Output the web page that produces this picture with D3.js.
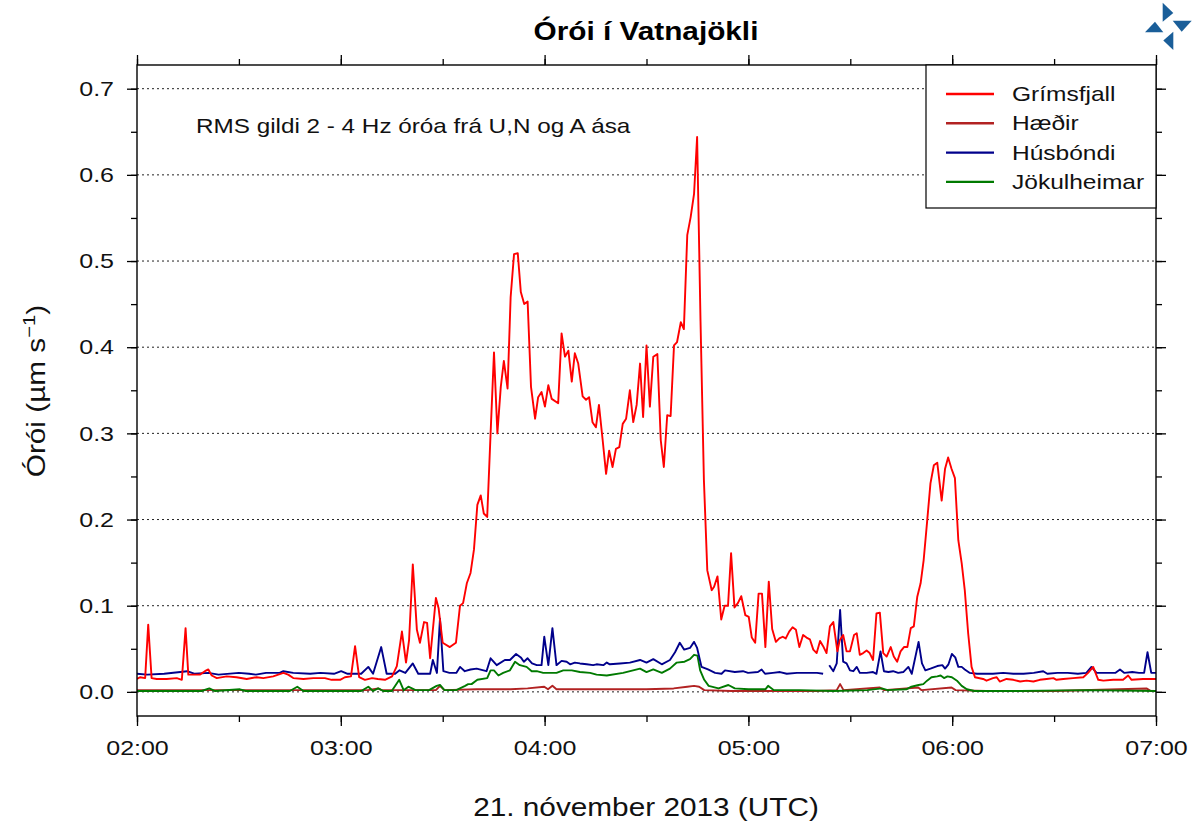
<!DOCTYPE html>
<html>
<head>
<meta charset="utf-8">
<script src="https://cdn.jsdelivr.net/npm/d3@7"></script>
<style>
  html, body { margin: 0; padding: 0; background: #fff; }
  svg { display: block; font-family: "Liberation Sans", Arial, Helvetica, sans-serif; }
</style>
</head>
<body>
<svg id="chart" width="1192" height="825"></svg>
<script>
// ---- Data (minutes after 02:00 UTC, 21 Nov 2013; values in µm/s) ----
const seriesNames = ["Grímsfjall", "Hæðir", "Húsbóndi", "Jökulheimar"];
const seriesColors = ["#ff0000", "#b22222", "#00008b", "#007a00"];

const grimsT = [0,0.9,2.4,3.3,4.3,5.8,8.7,11.7,13.2,14.3,15.1,17.1,18.5,20,21,22,23.5,26.4,29.3,32.3,35.2,37.2,40.1,43.1,44.5,46,49,51.9,55.3,57.3,59.8,61.2,63,64.2,65.4,67.1,69.2,70.9,73,75.1,76.5,78,79.2,80.1,81.2,82.4,83.3,84.5,85.4,86.3,88,88.8,90,92.1,93.9,95.1,96,97.1,98.2,99.2,100.2,101.2,102.1,103.1,104.1,105.1,106.1,107.1,108,109.1,110,111,112.1,113,114,115,116,117.2,118.1,119.1,120.1,121.1,122.1,124,125,126,127,128,128.9,129.9,131.2,132.2,133.1,134.1,135.1,136,137.1,138.1,139,140,141,142,143,144,145.1,146.1,147.1,148.1,149,150,151,152,153.2,154.2,155.1,156.1,157.1,158.1,159,160.1,161,162,163,164,164.9,165.9,166.9,167.9,169.2,169.9,170.9,172,173,174,174.9,175.9,176.9,177.9,179.1,180.1,181,182,183,184,185,186,187,188.1,189.1,190.1,191,192,193,194,195,196.1,197.1,198.1,199.1,200.1,201.1,202,203,204,205,206.2,206.9,207.9,208.9,209.9,211.1,211.9,212.8,213.8,214.8,215.7,216.7,217.7,218.7,219.7,220.7,221.9,222.8,223.8,224.8,225.8,226.8,227.8,228.7,229.7,230.7,231.6,232.6,233.6,234.6,235.6,236.9,237.9,238.8,239.8,240.8,241.8,242.8,243.7,244.7,245.7,246.7,249.1,250.1,252,253.1,254,256,258,260,261.9,263.9,265.8,267.8,269.8,270.7,272.7,275.6,278.6,280,281.5,283,284.5,287.4,290.3,291.8,292.8,296.2,299.7,300];
const grimsV = [0.015,0.017,0.016,0.078,0.016,0.015,0.015,0.016,0.014,0.074,0.02,0.02,0.02,0.024,0.026,0.019,0.016,0.018,0.017,0.015,0.017,0.016,0.018,0.022,0.02,0.016,0.015,0.016,0.016,0.014,0.014,0.017,0.018,0.053,0.017,0.014,0.016,0.015,0.014,0.018,0.03,0.07,0.034,0.06,0.148,0.072,0.057,0.081,0.08,0.039,0.109,0.097,0.057,0.052,0.057,0.1,0.103,0.126,0.138,0.165,0.217,0.228,0.207,0.203,0.3,0.394,0.3,0.354,0.384,0.352,0.458,0.508,0.509,0.464,0.45,0.453,0.354,0.317,0.342,0.348,0.331,0.356,0.34,0.335,0.416,0.389,0.396,0.36,0.393,0.381,0.343,0.339,0.342,0.313,0.307,0.333,0.292,0.253,0.28,0.261,0.282,0.284,0.311,0.317,0.35,0.313,0.333,0.381,0.319,0.402,0.331,0.389,0.392,0.292,0.261,0.321,0.32,0.402,0.406,0.429,0.421,0.53,0.551,0.578,0.644,0.431,0.246,0.141,0.118,0.122,0.134,0.084,0.1,0.1,0.161,0.098,0.103,0.111,0.089,0.087,0.063,0.057,0.114,0.114,0.052,0.128,0.073,0.058,0.062,0.064,0.062,0.07,0.075,0.072,0.052,0.066,0.063,0.061,0.049,0.045,0.059,0.053,0.045,0.076,0.081,0.047,0.06,0.066,0.047,0.047,0.066,0.068,0.043,0.045,0.048,0.045,0.037,0.091,0.092,0.045,0.041,0.052,0.041,0.035,0.047,0.052,0.052,0.074,0.076,0.11,0.126,0.153,0.197,0.242,0.263,0.266,0.222,0.259,0.272,0.259,0.248,0.176,0.149,0.118,0.068,0.029,0.017,0.015,0.013,0.016,0.017,0.012,0.015,0.014,0.012,0.013,0.012,0.014,0.015,0.016,0.014,0.015,0.016,0.017,0.022,0.029,0.014,0.013,0.014,0.014,0.019,0.014,0.015,0.015,0.015];

const haedirT = [0,20,40,60,68,71,72,88,89.2,90.5,100,110,115,119.9,121,122.3,123.5,130,140,150,158,162,164,165.5,167,175,190,200,206,207,208,218.7,220,230,231,239.8,241,250,270,297.2,298.5,300];
const haedirV = [0.002,0.002,0.002,0.002,0.002,0.004,0.002,0.002,0.007,0.002,0.003,0.003,0.004,0.006,0.003,0.007,0.003,0.003,0.003,0.003,0.004,0.006,0.007,0.006,0.002,0.001,0.001,0.001,0.002,0.009,0.002,0.005,0.002,0.005,0.002,0.005,0.002,0.001,0.001,0.004,0.001,0.001];

const husT = [0,3,8,14.8,17,21,24,30,33,35,38,42,43.1,46,51,54,58,60.1,62,66,68.1,69.5,71.9,73.5,76,77.3,79,81.2,82.8,86.3,87.1,88.3,89.2,90.2,92,94,95.1,96.5,98.2,100,102.9,104.1,105.9,108.3,109.8,111.6,113,113.9,115,116.3,117.7,119.1,119.9,121.1,122.3,123.5,125,126.5,127.5,128.9,130.4,132.4,134.3,135.3,137.3,138.3,139.2,142.2,145.1,148.1,150,152,154.5,156.9,158.4,159.8,161.1,162.8,164,164.9,166.2,168.1,170.2,172.1,173.1,176,178.4,179.9,182.8,183.9,184.9,187.2,189.3,191.3,194.3,197.2,200.2,202,203,203.8,205,206,207,207.9,208.9,209.9,210.9,211.9,212.8,214.8,216.7,217.7,218.9,219.9,221.2,222.6,224.1,225.6,227.1,228.1,230.1,231.1,232.1,233.6,235.6,237.1,237.9,238.9,239.9,240.9,241.8,242.8,243.7,245.2,247.3,249,252,255,258,261,264,266.8,268,271,274,277,279.5,281,282.5,285,288,289.4,290.7,293,295,296.5,297.5,298.6,300];
const husV = [0.021,0.02,0.021,0.024,0.021,0.022,0.02,0.022,0.021,0.02,0.022,0.022,0.024,0.022,0.021,0.022,0.021,0.024,0.021,0.021,0.029,0.021,0.052,0.021,0.021,0.025,0.022,0.033,0.021,0.021,0.037,0.022,0.085,0.024,0.022,0.022,0.029,0.024,0.026,0.027,0.024,0.039,0.031,0.037,0.037,0.044,0.04,0.035,0.039,0.033,0.031,0.031,0.064,0.031,0.074,0.031,0.036,0.035,0.032,0.034,0.033,0.032,0.031,0.032,0.031,0.034,0.032,0.033,0.034,0.037,0.034,0.038,0.032,0.037,0.046,0.057,0.049,0.051,0.058,0.051,0.029,0.026,0.022,0.021,0.025,0.023,0.024,0.022,0.023,0.026,0.021,0.022,0.023,0.021,0.022,0.022,0.022,0.021,null,0.031,0.024,0.033,0.095,0.035,0.033,0.025,0.024,0.029,0.022,0.022,0.023,0.021,0.047,0.024,0.023,0.024,0.022,0.023,0.029,0.021,0.058,0.033,0.025,0.027,0.03,0.031,0.027,0.032,0.044,0.04,0.029,0.029,0.026,0.022,0.021,0.021,0.021,0.022,0.021,0.021,0.022,0.024,0.021,0.022,0.022,0.021,0.022,0.029,0.022,0.022,0.022,0.026,0.022,0.023,0.022,0.022,0.046,0.022,0.022];

const jokT = [0,10,19,21.3,23,30.3,32,45,47.2,49,60,66,68.1,69.5,71,72.5,75,77.2,78.5,79.9,82,86,88.2,89.2,90.5,94,96.6,97.5,98.5,100.2,103.1,104.1,105.1,106.4,107.8,109.8,111.3,112.7,114.7,116.2,117.7,119.6,121.6,123.5,125.5,128,130.4,133.4,135.3,138.3,143.1,148.1,150,152,154.5,156.9,158.9,161.2,162.8,164,165,165.8,167,168.3,171.2,174.1,176,180,185,185.8,187.5,195,205,215,219.3,221,226.5,228,230.1,231.5,232.6,233.9,235.6,236.6,237.6,238.6,239.9,241.4,242.8,244.3,246.5,260,280,300];
const jokV = [0.001,0.001,0.001,0.004,0.001,0.003,0.001,0.001,0.006,0.001,0.001,0.001,0.006,0.001,0.004,0.001,0.001,0.014,0.002,0.006,0.002,0.002,0.007,0.008,0.002,0.002,0.007,0.009,0.009,0.014,0.016,0.025,0.025,0.019,0.022,0.025,0.035,0.031,0.029,0.024,0.024,0.022,0.022,0.022,0.025,0.025,0.023,0.022,0.02,0.019,0.022,0.027,0.023,0.026,0.022,0.027,0.034,0.035,0.038,0.043,0.042,0.025,0.014,0.007,0.004,0.008,0.004,0.003,0.003,0.007,0.002,0.002,0.001,0.002,0.004,0.002,0.003,0.006,0.008,0.009,0.013,0.017,0.018,0.019,0.016,0.018,0.017,0.013,0.007,0.003,0.001,0.001,0.002,0.001];

const yTicks = [0, 0.1, 0.2, 0.3, 0.4, 0.5, 0.6, 0.7];
const xTickLabels = ["02:00", "03:00", "04:00", "05:00", "06:00", "07:00"];

// ---- Setup ----
const svg = d3.select("#chart");
const M = { left: 137, right: 1156, top: 65, bottom: 716 };
const t0 = Date.UTC(2013, 10, 21, 2, 0);
const toDate = m => new Date(t0 + m * 60000);

const x = d3.scaleUtc().domain([toDate(0), toDate(300)]).range([M.left, M.right]);
const y = d3.scaleLinear().domain([-0.028, 0.7275]).range([M.bottom, M.top]);

// grid (dotted)
svg.append("g").selectAll("line").data(yTicks).join("line")
  .attr("x1", M.left).attr("x2", M.right)
  .attr("y1", d => y(d)).attr("y2", d => y(d))
  .attr("stroke", "#222").attr("stroke-width", 1).attr("stroke-dasharray", "2,3");

// series
const allSeries = [
  { T: haedirT, V: haedirV, c: seriesColors[1] },
  { T: jokT, V: jokV, c: seriesColors[3] },
  { T: husT, V: husV, c: seriesColors[2] },
  { T: grimsT, V: grimsV, c: seriesColors[0] }
];
const line = d3.line()
  .defined(d => d[1] !== null)
  .x(d => x(toDate(d[0]))).y(d => y(d[1]));
svg.append("clipPath").attr("id", "clip").append("rect")
  .attr("x", M.left).attr("y", M.top).attr("width", M.right - M.left).attr("height", M.bottom - M.top);
const gLines = svg.append("g").attr("clip-path", "url(#clip)");
allSeries.forEach(s => {
  gLines.append("path")
    .datum(s.T.map((t, i) => [t, s.V[i]]))
    .attr("d", line).attr("fill", "none")
    .attr("stroke", s.c).attr("stroke-width", 1.9).attr("stroke-linejoin", "round");
});

// axes
const xMajor = d3.utcHour.every(1);
const xMinor = d3.utcMinute.every(30);
function styleAxis(g) {
  g.select(".domain").remove();
  g.selectAll("line").attr("stroke", "#000").attr("stroke-width", 1.3);
  g.selectAll("text").attr("fill", "#111").style("font-family", '"Liberation Sans", Arial, sans-serif');
}
svg.append("g").attr("transform", `translate(0,${M.bottom})`)
  .call(d3.axisBottom(x).ticks(xMinor).tickSize(6).tickFormat(""))
  .call(styleAxis);
svg.append("g").attr("transform", `translate(0,${M.bottom})`)
  .call(d3.axisBottom(x).ticks(xMajor).tickSize(10).tickPadding(14).tickFormat((d, i) => xTickLabels[i]))
  .call(styleAxis)
  .selectAll("text").attr("font-size", 21).classed("st", true);
svg.append("g").attr("transform", `translate(0,${M.top})`)
  .call(d3.axisTop(x).ticks(xMinor).tickSize(6).tickFormat(""))
  .call(styleAxis);
svg.append("g").attr("transform", `translate(0,${M.top})`)
  .call(d3.axisTop(x).ticks(xMajor).tickSize(10).tickFormat(""))
  .call(styleAxis);

const yMinor = d3.range(0, 0.75, 0.05);
svg.append("g").attr("transform", `translate(${M.left},0)`)
  .call(d3.axisLeft(y).tickValues(yMinor).tickSize(6).tickFormat(""))
  .call(styleAxis);
svg.append("g").attr("transform", `translate(${M.left},0)`)
  .call(d3.axisLeft(y).tickValues(yTicks).tickSize(10).tickPadding(13).tickFormat(d3.format(".1f")))
  .call(styleAxis)
  .selectAll("text").attr("font-size", 21).classed("st", true);
svg.append("g").attr("transform", `translate(${M.right},0)`)
  .call(d3.axisRight(y).tickValues(yMinor).tickSize(6).tickFormat(""))
  .call(styleAxis);
svg.append("g").attr("transform", `translate(${M.right},0)`)
  .call(d3.axisRight(y).tickValues(yTicks).tickSize(10).tickFormat(""))
  .call(styleAxis);

// frame
svg.append("rect").attr("x", M.left).attr("y", M.top)
  .attr("width", M.right - M.left).attr("height", M.bottom - M.top)
  .attr("fill", "none").attr("stroke", "#000").attr("stroke-width", 1.4);

// title
svg.append("text").attr("class", "st").attr("x", 646).attr("y", 40).attr("text-anchor", "middle")
  .attr("font-size", 25).attr("font-weight", "bold").attr("fill", "#000")
  .text("Órói í Vatnajökli");

// annotation
svg.append("text").attr("class", "st").attr("x", 196).attr("y", 133).attr("font-size", 20.4).attr("fill", "#111")
  .text("RMS gildi 2 - 4 Hz óróa frá U,N og A ása");

// y label
const yl = svg.append("text").attr("class", "st").attr("transform", "translate(45,391) rotate(-90)")
  .attr("text-anchor", "middle").attr("font-size", 25).attr("fill", "#111");
yl.append("tspan").text("Órói (µm s");
yl.append("tspan").attr("dy", -10).attr("font-size", 17).text("−1");
yl.append("tspan").attr("dy", 10).text(")");

// x label
svg.append("text").attr("class", "st").attr("x", 646).attr("y", 816).attr("text-anchor", "middle")
  .attr("font-size", 25).attr("fill", "#111").text("21. nóvember 2013 (UTC)");

// legend
const lg = svg.append("g");
lg.append("rect").attr("x", 926).attr("y", M.top).attr("width", M.right - 926).attr("height", 143)
  .attr("fill", "#fff").attr("stroke", "#000").attr("stroke-width", 1.2);
seriesNames.forEach((n, i) => {
  const yy = 94 + i * 29.3;
  lg.append("line").attr("x1", 946).attr("x2", 994).attr("y1", yy).attr("y2", yy)
    .attr("stroke", seriesColors[i]).attr("stroke-width", 2.4);
  lg.append("text").attr("class", "st").attr("x", 1012).attr("y", yy + 7).attr("font-size", 20.6).attr("fill", "#111").text(n);
});

// horizontal stretch of text to mimic the wider reference typeface
svg.selectAll("text.st").each(function () {
  const L = this.getComputedTextLength();
  d3.select(this).attr("textLength", L * 1.19).attr("lengthAdjust", "spacingAndGlyphs");
});

// logo (four triangles)
const logo = svg.append("g").attr("fill", "#1a5e99");
[
  [[1162.7, 2.7], [1162.7, 21.7], [1173.3, 13]],
  [[1172.7, 20.7], [1191.7, 20.7], [1181.7, 31.7]],
  [[1145, 32.3], [1163.3, 32.3], [1155, 21.7]],
  [[1173.3, 31.7], [1173.3, 50], [1163.3, 40.5]]
].forEach(p => logo.append("path").attr("d", "M" + p.map(q => q.join(",")).join("L") + "Z"));
</script>
</body>
</html>
